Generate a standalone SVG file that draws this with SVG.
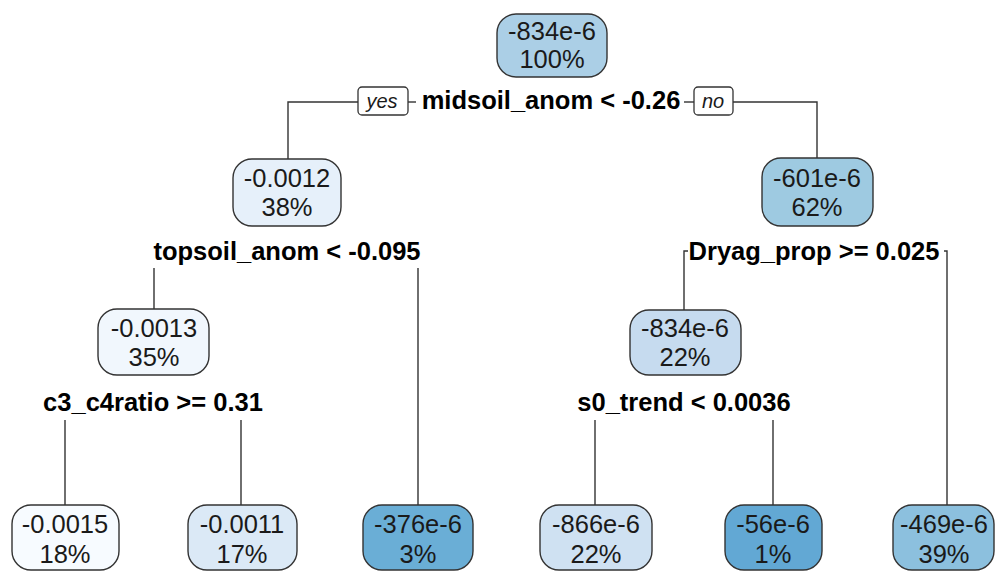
<svg xmlns="http://www.w3.org/2000/svg" width="996" height="571" viewBox="0 0 996 571">
  <style>
    .box { stroke: #333; stroke-width: 1.4; }
    .val { font-family: "Liberation Sans", Arial, sans-serif; font-size: 25.5px; fill: #1a1a1a; text-anchor: middle; }
    .split { font-family: "Liberation Sans", Arial, sans-serif; font-size: 25.5px; font-weight: bold; fill: #000; text-anchor: middle; }
    .yn { font-family: "Liberation Sans", Arial, sans-serif; font-size: 20px; font-style: italic; fill: #1a1a1a; text-anchor: middle; }
    .ynbox { fill: #fff; stroke: #333; stroke-width: 1.3; }
    .edge { fill: none; stroke: #333; stroke-width: 1.4; }
  </style>
  <rect width="996" height="571" fill="#fff"/>

  <!-- branch lines -->
  <g id="connectors">
    <path class="edge" d="M288,160 V102 H358"/>
    <path class="edge" d="M408,102 H416"/>
    <path class="edge" d="M684,102 H694"/>
    <path class="edge" d="M733,102 H817 V158"/>
    <path class="edge" d="M154,268 V309"/>
    <path class="edge" d="M418,268 V505"/>
    <path class="edge" d="M688,251 H684 V310"/>
    <path class="edge" d="M944,251 H947 V505"/>
    <path class="edge" d="M65,420 V505"/>
    <path class="edge" d="M241,420 V505"/>
    <path class="edge" d="M595,420 V505"/>
    <path class="edge" d="M773,420 V505"/>
  </g>

  <!-- split labels -->
  <g id="split-midsoil">
    <rect class="ynbox" x="358" y="87" width="50" height="28" rx="4"/>
    <text class="yn" x="382" y="108">yes</text>
    <text class="split" x="551" y="109">midsoil_anom &lt; -0.26</text>
    <rect class="ynbox" x="694" y="87" width="39" height="28" rx="4"/>
    <text class="yn" x="713" y="108">no</text>
  </g>
  <g id="split-topsoil">
    <text class="split" x="287" y="260">topsoil_anom &lt; -0.095</text>
  </g>
  <g id="split-dryag">
    <text class="split" x="814" y="260">Dryag_prop &gt;= 0.025</text>
  </g>
  <g id="split-c3c4">
    <text class="split" x="153" y="411">c3_c4ratio &gt;= 0.31</text>
  </g>
  <g id="split-s0">
    <text class="split" x="684" y="411">s0_trend &lt; 0.0036</text>
  </g>

  <!-- nodes -->
  <g id="node-root">
    <rect class="box" x="497" y="14" width="110" height="63" rx="19" fill="#abcfe6"/>
    <text class="val" x="552" y="40">-834e-6</text>
    <text class="val" x="552" y="68">100%</text>
  </g>
  <g id="node-left">
    <rect class="box" x="233" y="159" width="108" height="67" rx="19" fill="#e6f0fa"/>
    <text class="val" x="287" y="187">-0.0012</text>
    <text class="val" x="287" y="216">38%</text>
  </g>
  <g id="node-right">
    <rect class="box" x="762" y="158" width="111" height="68" rx="19" fill="#9ecae1"/>
    <text class="val" x="817" y="187">-601e-6</text>
    <text class="val" x="817" y="216">62%</text>
  </g>
  <g id="node-left-left">
    <rect class="box" x="98" y="309" width="111" height="66" rx="19" fill="#f1f7fd"/>
    <text class="val" x="154" y="337">-0.0013</text>
    <text class="val" x="154" y="366">35%</text>
  </g>
  <g id="node-right-left">
    <rect class="box" x="630" y="310" width="111" height="65" rx="19" fill="#c6dbef"/>
    <text class="val" x="685" y="337">-834e-6</text>
    <text class="val" x="685" y="366">22%</text>
  </g>
  <g id="leaf-1">
    <rect class="box" x="12" y="505" width="107" height="65" rx="19" fill="#f7fbff"/>
    <text class="val" x="65" y="533">-0.0015</text>
    <text class="val" x="65" y="563">18%</text>
  </g>
  <g id="leaf-2">
    <rect class="box" x="188" y="505" width="109" height="65" rx="19" fill="#dbe9f6"/>
    <text class="val" x="242" y="533">-0.0011</text>
    <text class="val" x="242" y="563">17%</text>
  </g>
  <g id="leaf-3">
    <rect class="box" x="363" y="505" width="110" height="65" rx="19" fill="#6aaed6"/>
    <text class="val" x="418" y="533">-376e-6</text>
    <text class="val" x="418" y="563">3%</text>
  </g>
  <g id="leaf-4">
    <rect class="box" x="540" y="505" width="112" height="65" rx="19" fill="#cfe1f2"/>
    <text class="val" x="596" y="533">-866e-6</text>
    <text class="val" x="596" y="563">22%</text>
  </g>
  <g id="leaf-5">
    <rect class="box" x="725" y="505" width="97" height="65" rx="19" fill="#62a8d4"/>
    <text class="val" x="773" y="533">-56e-6</text>
    <text class="val" x="773" y="563">1%</text>
  </g>
  <g id="leaf-6">
    <rect class="box" x="893" y="505" width="101" height="65" rx="19" fill="#8cc0de"/>
    <text class="val" x="944" y="533">-469e-6</text>
    <text class="val" x="944" y="563">39%</text>
  </g>
</svg>
